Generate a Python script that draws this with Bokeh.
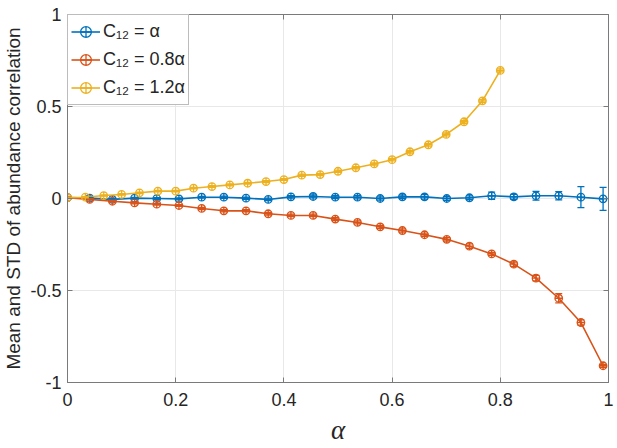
from bokeh.plotting import figure
from bokeh.models import (ColumnDataSource, Whisker, TeeHead, LinearAxis, FixedTicker,
                          Legend, LegendItem, Range1d)
from bokeh.embed import file_html
from bokeh.resources import INLINE

# alpha values for each series
alpha_ab = [0.0, 0.041, 0.083, 0.124, 0.165, 0.206, 0.248, 0.289, 0.33, 0.371, 0.413, 0.454,
            0.495, 0.536, 0.578, 0.619, 0.66, 0.701, 0.743, 0.784, 0.825, 0.866, 0.908, 0.949, 0.99]
alpha_c = [0.0, 0.033, 0.067, 0.1, 0.133, 0.167, 0.2, 0.233, 0.267, 0.3, 0.333, 0.367, 0.4,
           0.433, 0.467, 0.5, 0.533, 0.567, 0.6, 0.633, 0.667, 0.7, 0.733, 0.767, 0.8]

# mean abundance correlation
mean_eq = [0.005, 0.002, -0.005, 0.002, 0.0, -0.002, 0.007, 0.007, 0.002, -0.005, 0.009, 0.011,
           0.007, 0.007, 0.0, 0.009, 0.009, 0.0, 0.004, 0.015, 0.009, 0.015, 0.015, 0.007, -0.002]
mean_08 = [0.005, -0.005, -0.015, -0.024, -0.031, -0.038, -0.054, -0.067, -0.067, -0.083, -0.092,
           -0.092, -0.112, -0.130, -0.154, -0.174, -0.197, -0.222, -0.259, -0.301, -0.357, -0.433,
           -0.542, -0.674, -0.909]
mean_12 = [0.005, 0.007, 0.016, 0.022, 0.031, 0.040, 0.040, 0.056, 0.065, 0.074, 0.083, 0.092,
           0.103, 0.127, 0.130, 0.148, 0.167, 0.188, 0.211, 0.254, 0.292, 0.348, 0.417, 0.531, 0.696]

# standard deviation (error bar half-length)
std_eq = [0.003, 0.004, 0.004, 0.004, 0.005, 0.005, 0.005, 0.006, 0.006, 0.007, 0.007, 0.008,
          0.008, 0.009, 0.009, 0.010, 0.012, 0.010, 0.010, 0.020, 0.013, 0.024, 0.022, 0.057, 0.063]
std_08 = [0.003, 0.004, 0.004, 0.005, 0.005, 0.005, 0.006, 0.006, 0.006, 0.007, 0.007, 0.007,
          0.008, 0.008, 0.008, 0.009, 0.009, 0.009, 0.012, 0.008, 0.012, 0.015, 0.025, 0.014, 0.008]
std_12 = [0.003, 0.003, 0.003, 0.004, 0.004, 0.004, 0.004, 0.004, 0.005, 0.005, 0.005, 0.005,
          0.005, 0.006, 0.006, 0.006, 0.006, 0.006, 0.007, 0.007, 0.007, 0.008, 0.008, 0.008, 0.008]

labels = ["C\u2081\u2082 = \u03b1", "C\u2081\u2082 = 0.8\u03b1", "C\u2081\u2082 = 1.2\u03b1"]
colors = ["#0072BD", "#D95319", "#EDB120"]

x_ticks = [0, 0.2, 0.4, 0.6, 0.8, 1]
x_tick_labels = ["0", "0.2", "0.4", "0.6", "0.8", "1"]
y_ticks = [-1, -0.5, 0, 0.5, 1]
y_tick_labels = ["-1", "-0.5", "0", "0.5", "1"]

TXT = "#262626"
FONT = "Liberation Sans"
BOX = "#7a7a7a"

p = figure(width=617, height=448, output_backend="svg", toolbar_location=None,
           x_range=Range1d(0, 1), y_range=Range1d(-1, 1),
           min_border_left=67, min_border_right=9, min_border_top=14, min_border_bottom=66)
p.background_fill_color = "white"
p.outline_line_color = BOX
p.outline_line_width = 1

for ax, ticks, labs in ((p.xaxis, x_ticks, x_tick_labels), (p.yaxis, y_ticks, y_tick_labels)):
    ax.ticker = FixedTicker(ticks=ticks)
    ax.major_label_overrides = {t: l for t, l in zip(ticks, labs)}
    ax.major_tick_in = 5
    ax.major_tick_out = 0
    ax.minor_tick_line_color = None
    ax.axis_line_color = BOX
    ax.major_tick_line_color = BOX
    ax.major_label_text_font = FONT
    ax.major_label_text_font_size = "18px"
    ax.major_label_text_color = TXT

p.xaxis.major_label_standoff = 10
p.yaxis.major_label_standoff = 6
p.xaxis.axis_label = "\u03b1"
p.xaxis.axis_label_text_font = "Liberation Serif"
p.xaxis.axis_label_text_font_style = "italic"
p.xaxis.axis_label_text_font_size = "27px"
p.xaxis.axis_label_text_color = TXT
p.xaxis.axis_label_standoff = 6
p.yaxis.axis_label = "Mean and STD of abundance correlation"
p.yaxis.axis_label_text_font = FONT
p.yaxis.axis_label_text_font_style = "normal"
p.yaxis.axis_label_text_font_size = "19px"
p.yaxis.axis_label_text_color = TXT
p.yaxis.axis_label_standoff = 3

# tick marks on the top and right edges of the box (no labels there)
for loc, ticks in (("above", x_ticks), ("right", y_ticks)):
    extra = LinearAxis(ticker=FixedTicker(ticks=ticks),
                       major_label_overrides={t: "" for t in ticks},
                       major_label_standoff=0, major_tick_in=5, major_tick_out=0,
                       minor_tick_line_color=None, axis_line_color=BOX,
                       major_tick_line_color=BOX)
    p.add_layout(extra, loc)

p.grid.grid_line_color = "#e8e8e8"
p.xgrid.ticker = FixedTicker(ticks=x_ticks)
p.ygrid.ticker = FixedTicker(ticks=y_ticks)

series = [(alpha_ab, mean_eq, std_eq), (alpha_ab, mean_08, std_08), (alpha_c, mean_12, std_12)]
items = []
for (xs, ms, ss), c, lab in zip(series, colors, labels):
    src = ColumnDataSource(dict(x=xs, y=ms,
                                lo=[m - s for m, s in zip(ms, ss)],
                                hi=[m + s for m, s in zip(ms, ss)]))
    ln = p.line("x", "y", source=src, line_color=c, line_width=1.6)
    w = Whisker(source=src, base="x", lower="lo", upper="hi", line_color=c, line_width=1.3,
                level="glyph",
                upper_head=TeeHead(size=7, line_color=c, line_width=1.3),
                lower_head=TeeHead(size=7, line_color=c, line_width=1.3))
    p.add_layout(w)
    sc = p.scatter("x", "y", source=src, marker="circle_cross", size=7.5, fill_color=None,
                   line_color=c, line_width=1.3)
    items.append(LegendItem(label=lab, renderers=[ln, sc]))

legend = Legend(items=items, location="top_left", margin=0, padding=3, spacing=1,
                glyph_width=29, glyph_height=27, label_standoff=3,
                label_text_font=FONT, label_text_font_size="18px", label_text_color=TXT,
                border_line_color=BOX, border_line_width=1,
                background_fill_color="white", background_fill_alpha=1)
p.add_layout(legend)

open("out.html", "w").write(file_html(p, INLINE))
